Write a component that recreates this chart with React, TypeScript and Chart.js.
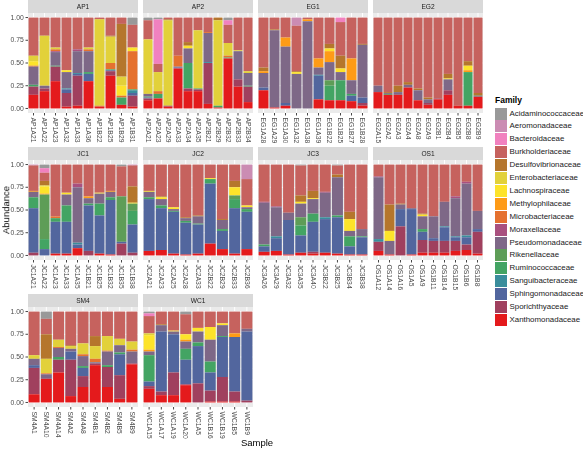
import React, { useEffect, useRef } from "react";
import { Chart, registerables } from "chart.js";
Chart.register(...registerables);

// Legend order (top of stack first)
const FAMILIES = [
  "Acidaminococcaceae", "Aeromonadaceae", "Bacteroidaceae", "Burkholderiaceae",
  "Desulfovibrionaceae", "Enterobacteriaceae", "Lachnospiraceae", "Methylophilaceae",
  "Microbacteriaceae", "Moraxellaceae", "Pseudomonadaceae", "Rikenellaceae",
  "Ruminococcaceae", "Sanguibacteraceae", "Sphingomonadaceae", "Sporichthyaceae",
  "Xanthomonadaceae",
];
const FAMILY_COLORS = [
  "#999999", "#CB8CB3", "#F181BF", "#C6625E",
  "#B5762C", "#E2D13A", "#FDE32A", "#FE9B16",
  "#E5712F", "#A9507F", "#7E6887", "#5E9D57",
  "#43A463", "#3A8D9C", "#52669E", "#A0405E",
  "#E41A1C",
];
// Value rows below are listed bottom-up in the stack:
// X, Sporich, Sphingo, Sanguib, Rumino, Rikenell, Pseudo, Moraxell, Microbact,
// Methylo, Lachno, Entero, Desulfo, Burkhold, Bacteroid, Aeromonad, Acidamino
const STACK_FAMILIES = [...FAMILIES].reverse();

const Y_TICKS = [0, 0.25, 0.5, 0.75, 1];
const Y_TICK_LABELS = ["0.00", "0.25", "0.50", "0.75", "1.00"];
const Y_MINOR = [0.125, 0.375, 0.625, 0.875];

const AP1_SAMPLES = ["AP1A21", "AP1A22", "AP1A23", "AP1A32", "AP1A33", "AP1A36", "AP1B22", "AP1B25", "AP1B29", "AP1B31"];
const AP1_VALUES = [
  [.15, .09, 0, 0, .02, 0, .20, 0, .01, 0, .05, .06, 0, .42, 0, 0, 0],
  [.19, .03, 0, 0, 0, 0, .03, 0, 0, 0, 0, .55, 0, .20, 0, 0, 0],
  [.30, .16, 0, 0, .01, 0, .15, .01, .02, 0, 0, .02, 0, .33, 0, 0, 0],
  [.02, .15, .04, .01, 0, 0, .18, 0, 0, 0, .02, 0, 0, .58, 0, 0, 0],
  [.03, .33, .02, .01, 0, 0, .24, .02, 0, 0, 0, 0, 0, .35, 0, 0, 0],
  [.30, 0, .08, 0, .02, 0, .23, 0, .02, 0, 0, .02, 0, .33, 0, 0, 0],
  [.02, 0, 0, 0, 0, 0, 0, 0, .01, 0, 0, .95, 0, .02, 0, 0, 0],
  [.36, .05, .01, 0, .01, 0, 0, 0, .07, 0, 0, .29, .01, .20, 0, 0, 0],
  [.04, 0, 0, 0, .08, 0, 0, 0, .02, 0, .11, .10, .58, .07, 0, 0, 0],
  [.02, .12, .03, .03, .01, 0, 0, 0, .42, 0, .04, 0, 0, .25, 0, 0, .08],
];

const AP2_SAMPLES = ["AP2A21", "AP2A23", "AP2A29", "AP2A33", "AP2A34", "AP2A35", "AP2B21", "AP2B29", "AP2B32", "AP2B33", "AP2B34"];
const AP2_VALUES = [
  [.09, .02, .01, 0, .01, 0, .03, 0, 0, 0, 0, .60, 0, .21, 0, 0, .03],
  [.11, 0, 0, 0, .05, 0, 0, 0, .03, 0, 0, .21, 0, .09, .49, 0, .02],
  [.02, .01, 0, 0, 0, 0, 0, 0, 0, 0, 0, .94, .01, .02, 0, 0, 0],
  [.44, 0, .01, 0, 0, 0, .01, 0, .12, 0, 0, 0, 0, .42, 0, 0, 0],
  [.19, .03, 0, 0, .28, 0, .16, 0, 0, 0, .03, 0, .04, .27, 0, 0, 0],
  [.19, .02, 0, 0, .01, 0, 0, 0, 0, 0, 0, .64, 0, .14, 0, 0, 0],
  [.05, .45, 0, .01, 0, 0, .32, 0, .01, 0, 0, 0, 0, .16, 0, 0, 0],
  [.01, 0, 0, 0, .02, 0, 0, 0, 0, 0, 0, .94, .03, 0, 0, 0, 0],
  [.55, 0, 0, 0, .01, 0, 0, 0, .02, 0, 0, .14, 0, .20, .05, 0, .03],
  [.24, .08, 0, 0, 0, 0, .31, 0, 0, 0, 0, .01, 0, .36, 0, 0, 0],
  [.07, .17, 0, 0, .01, 0, .14, 0, 0, 0, 0, .02, 0, .59, 0, 0, 0],
];

const EG1_SAMPLES = ["EG1A28", "EG1A29", "EG1A30", "EG1A32", "EG1A38", "EG1A39", "EG1B22", "EG1B25", "EG1B27", "EG1B28"];
const EG1_VALUES = [
  [.20, 0, .03, 0, 0, 0, .16, 0, 0, .02, 0, 0, .04, .55, 0, 0, 0],
  [.01, 0, 0, 0, 0, 0, .85, 0, 0, 0, 0, 0, .01, .13, 0, 0, 0],
  [.03, 0, .03, 0, 0, 0, .62, 0, 0, .10, 0, 0, 0, .22, 0, 0, 0],
  [0, 0, 0, 0, 0, 0, .38, 0, 0, 0, .02, 0, .01, .50, 0, .09, 0],
  [0, 0, 0, 0, 0, 0, .96, 0, 0, .02, 0, 0, 0, .02, 0, 0, 0],
  [.10, 0, .26, .01, 0, 0, .08, 0, 0, .10, 0, 0, 0, .45, 0, 0, 0],
  [.09, 0, 0, 0, .16, .06, .20, 0, 0, .12, .03, 0, .05, .29, 0, 0, 0],
  [.09, 0, 0, 0, .22, 0, .09, 0, 0, 0, .04, 0, .14, .37, .05, 0, 0],
  [.08, 0, .06, 0, .02, 0, .15, 0, 0, .24, 0, 0, 0, .45, 0, 0, 0],
  [.03, .03, .06, 0, 0, 0, .58, 0, 0, 0, 0, 0, .01, .29, 0, 0, 0],
];

const EG2_SAMPLES = ["EG2A15", "EG2A2", "EG2A3", "EG2A4", "EG2A8", "EG2A9", "EG2B1", "EG2B4", "EG2B5", "EG2B8", "EG2B9"];
const EG2_VALUES = [
  [.18, 0, 0, 0, 0, 0, .07, 0, 0, 0, 0, 0, 0, .75, 0, 0, 0],
  [.15, 0, 0, 0, .01, 0, .01, 0, 0, 0, 0, 0, .01, .82, 0, 0, 0],
  [.15, 0, 0, 0, 0, 0, .03, 0, 0, 0, 0, 0, .07, .75, 0, 0, 0],
  [.23, 0, 0, 0, 0, 0, .03, 0, 0, 0, 0, 0, .03, .71, 0, 0, 0],
  [.09, 0, 0, 0, 0, 0, .11, 0, 0, 0, 0, 0, .02, .78, 0, 0, 0],
  [.04, .02, 0, 0, 0, 0, .04, 0, 0, 0, 0, 0, .02, .88, 0, 0, 0],
  [.10, .01, 0, 0, 0, 0, 0, 0, 0, 0, 0, 0, 0, .89, 0, 0, 0],
  [.15, .05, 0, 0, 0, 0, .12, 0, 0, 0, .01, 0, .05, .62, 0, 0, 0],
  [.03, 0, 0, 0, 0, 0, 0, 0, 0, 0, 0, 0, 0, .97, 0, 0, 0],
  [.03, 0, 0, 0, .37, 0, 0, 0, 0, .02, .05, 0, .05, .48, 0, 0, 0],
  [.13, 0, 0, .01, 0, 0, 0, 0, 0, 0, 0, 0, .03, .83, 0, 0, 0],
];

const JC1_SAMPLES = ["JC1A21", "JC1A22", "JC1A23", "JC1A33", "JC1A35", "JC1B21", "JC1B25", "JC1B32", "JC1B35", "JC1B38"];
const JC1_VALUES = [
  [0, .03, .49, 0, .12, 0, .06, 0, 0, .01, 0, 0, 0, .28, 0, .01, 0],
  [0, 0, .07, 0, .11, .49, 0, 0, 0, .01, .08, .01, .05, .09, .05, 0, .04],
  [.02, 0, .35, 0, .04, 0, 0, 0, .02, 0, 0, 0, 0, .57, 0, 0, 0],
  [.02, 0, .35, 0, .18, 0, .12, 0, 0, 0, .02, 0, 0, .31, 0, 0, 0],
  [.08, 0, .04, .02, 0, 0, .61, .04, 0, 0, 0, 0, 0, .21, 0, 0, 0],
  [0, .05, .50, 0, .02, 0, .06, 0, 0, .02, 0, 0, 0, .35, 0, 0, 0],
  [.02, 0, .42, 0, .13, 0, .11, 0, 0, 0, .01, 0, 0, .31, 0, 0, 0],
  [.01, 0, .60, 0, .03, 0, .06, 0, 0, .01, 0, 0, 0, .29, 0, 0, 0],
  [0, .13, .02, 0, 0, .50, 0, 0, 0, 0, 0, 0, 0, .33, 0, 0, .02],
  [0, .03, .31, 0, .15, .08, 0, 0, 0, 0, .01, 0, .18, .23, 0, .01, 0],
];

const JC2_SAMPLES = ["JC2A21", "JC2A23", "JC2A25", "JC2A28", "JC2A33", "JC2B22", "JC2B29", "JC2B33", "JC2B36"];
const JC2_VALUES = [
  [.05, 0, .57, 0, .02, 0, .06, 0, 0, 0, .01, 0, 0, .29, 0, 0, 0],
  [.06, 0, .46, 0, .03, 0, .07, 0, 0, 0, .02, 0, .01, .35, 0, 0, 0],
  [.02, 0, .46, 0, .01, 0, .02, 0, 0, 0, .02, 0, 0, .47, 0, 0, 0],
  [.01, 0, .35, 0, .02, 0, .03, 0, 0, 0, 0, 0, .01, .58, 0, 0, 0],
  [.02, 0, .32, 0, .01, 0, .08, 0, 0, 0, 0, 0, .01, .56, 0, 0, 0],
  [.13, 0, .66, 0, .05, 0, 0, 0, 0, 0, .01, 0, 0, .15, 0, 0, 0],
  [.07, 0, .20, 0, .02, 0, .10, 0, 0, 0, 0, 0, .01, .60, 0, 0, 0],
  [.02, 0, .50, 0, .10, .04, 0, 0, 0, 0, .09, 0, .07, .18, 0, 0, 0],
  [.07, 0, .41, 0, .03, 0, .02, 0, 0, 0, .02, 0, 0, .29, 0, .16, 0],
];

const JC3_SAMPLES = ["JC3A26", "JC3A29", "JC3A32", "JC3A35", "JC3A40", "JC3B22", "JC3B25", "JC3B34", "JC3B38"];
const JC3_VALUES = [
  [.04, 0, .06, 0, .02, 0, .46, .01, 0, 0, 0, 0, 0, .41, 0, 0, 0],
  [.05, 0, .14, .02, 0, 0, .32, .01, 0, 0, 0, 0, 0, .46, 0, 0, 0],
  [.01, 0, .38, 0, 0, 0, .08, 0, 0, 0, 0, 0, 0, .53, 0, 0, 0],
  [.03, 0, .19, 0, .11, .09, .15, 0, 0, 0, .02, 0, .07, .33, 0, 0, .01],
  [.02, .02, .33, 0, .09, 0, .16, 0, 0, 0, .01, 0, .08, .29, 0, 0, 0],
  [.03, 0, .37, .02, 0, 0, .27, .01, 0, 0, 0, 0, 0, .30, 0, 0, 0],
  [.02, 0, .40, 0, .02, 0, .42, 0, 0, 0, 0, 0, .03, .10, 0, 0, .01],
  [.01, 0, .09, 0, .11, 0, .06, 0, 0, 0, .13, 0, .08, .52, 0, 0, 0],
  [.01, 0, .19, 0, .01, 0, .08, 0, 0, 0, 0, 0, 0, .71, 0, 0, 0],
];

const OS1_SAMPLES = ["OS1A12", "OS1A14", "OS1A16", "OS1A5", "OS1A9", "OS1B11", "OS1B14", "OS1B15", "OS1B6", "OS1B8"];
const OS1_VALUES = [
  [.05, .10, 0, .03, 0, 0, .68, .01, 0, 0, 0, 0, 0, .13, 0, 0, 0],
  [.01, 0, 0, 0, 0, 0, .15, 0, 0, 0, .11, 0, .29, .44, 0, 0, 0],
  [0, .32, .19, 0, 0, 0, .05, 0, 0, 0, 0, 0, .01, .43, 0, 0, 0],
  [.01, 0, .50, 0, 0, 0, .01, 0, 0, 0, 0, 0, 0, .48, 0, 0, 0],
  [.03, .14, .09, 0, .03, 0, .14, 0, 0, 0, .02, 0, .01, .54, 0, 0, 0],
  [.03, .13, .03, 0, 0, 0, .24, 0, 0, 0, 0, 0, 0, .57, 0, 0, 0],
  [.03, .13, .15, .01, 0, 0, .27, 0, 0, 0, 0, 0, 0, .41, 0, 0, 0],
  [.05, .11, .04, .01, 0, 0, .42, .02, 0, 0, 0, 0, 0, .35, 0, 0, 0],
  [.06, .06, .08, .02, 0, 0, .57, .02, 0, 0, 0, 0, 0, .19, 0, 0, 0],
  [.02, .24, .03, 0, 0, 0, .20, 0, 0, 0, 0, 0, 0, .51, 0, 0, 0],
];

const SM4_SAMPLES = ["SM4A1", "SM4A10", "SM4A14", "SM4A2", "SM4A8", "SM4B1", "SM4B2", "SM4B5", "SM4B9"];
const SM4_VALUES = [
  [.09, .29, .03, 0, 0, 0, .07, 0, 0, 0, 0, .04, 0, .48, 0, 0, 0],
  [.26, 0, 0, 0, 0, 0, .05, 0, .01, 0, 0, .16, .27, .17, 0, 0, .08],
  [.33, .14, 0, 0, .03, 0, .10, 0, .01, 0, 0, .08, 0, .31, 0, 0, 0],
  [.07, .40, .09, 0, 0, 0, .03, 0, 0, 0, 0, .03, .01, .37, 0, 0, 0],
  [.17, .12, .09, 0, .02, 0, .11, 0, .02, 0, 0, .12, 0, .35, 0, 0, 0],
  [.41, .02, .01, 0, 0, 0, 0, 0, .04, 0, 0, .14, .11, .27, 0, 0, 0],
  [.17, .22, 0, 0, .02, 0, .15, 0, .01, 0, 0, .16, 0, .27, 0, 0, 0],
  [.04, .26, .23, 0, .02, 0, .08, 0, 0, 0, 0, .07, 0, .30, 0, 0, 0],
  [.42, .01, 0, 0, 0, 0, .13, 0, .02, 0, 0, .09, 0, .33, 0, 0, 0],
];

const WC1_SAMPLES = ["WC1A15", "WC1A17", "WC1A19", "WC1A20", "WC1A5", "WC1B16", "WC1B19", "WC1B5", "WC1B9"];
const WC1_VALUES = [
  [.15, .03, .05, 0, .29, 0, .04, 0, 0, .02, .16, .02, 0, .19, .03, 0, .02],
  [.08, .04, .66, 0, 0, 0, .07, 0, 0, 0, 0, 0, .01, .14, 0, 0, 0],
  [.08, .25, .42, 0, 0, 0, .03, 0, 0, 0, .01, 0, 0, .21, 0, 0, 0],
  [.19, .01, .27, 0, .12, 0, .08, 0, 0, .02, .06, 0, 0, .22, 0, 0, .03],
  [0, .21, .41, 0, .04, 0, .12, 0, 0, 0, .04, 0, 0, .18, 0, 0, 0],
  [.01, .12, .20, 0, .12, 0, .24, 0, 0, 0, .14, 0, 0, .17, 0, 0, 0],
  [.01, .27, .44, 0, .01, 0, .12, 0, 0, 0, .02, 0, 0, .13, 0, 0, 0],
  [.01, .11, .60, 0, 0, 0, 0, 0, 0, .04, 0, 0, 0, .24, 0, 0, 0],
  [0, .02, .76, 0, 0, 0, .03, 0, 0, 0, 0, 0, 0, .19, 0, 0, 0],
];

const FACETS = [
  { title: "AP1", samples: AP1_SAMPLES, values: AP1_VALUES },
  { title: "AP2", samples: AP2_SAMPLES, values: AP2_VALUES },
  { title: "EG1", samples: EG1_SAMPLES, values: EG1_VALUES },
  { title: "EG2", samples: EG2_SAMPLES, values: EG2_VALUES },
  { title: "JC1", samples: JC1_SAMPLES, values: JC1_VALUES },
  { title: "JC2", samples: JC2_SAMPLES, values: JC2_VALUES },
  { title: "JC3", samples: JC3_SAMPLES, values: JC3_VALUES },
  { title: "OS1", samples: OS1_SAMPLES, values: OS1_VALUES },
  { title: "SM4", samples: SM4_SAMPLES, values: SM4_VALUES },
  { title: "WC1", samples: WC1_SAMPLES, values: WC1_VALUES },
];

// Layout (pixels)
const PANEL_W = 110;
const PANEL_H = 100;
const COL_STEP = 115;
const ROW_STEP = 147;
const LEFT0 = 28;
const STRIP_H = 13;
const BOTTOM_PAD = 34;
const FONT = '"Liberation Sans", Arial, sans-serif';

const facetPlugin = {
  id: "facetDecor",
  beforeDatasetsDraw(chart: any) {
    const { ctx, chartArea: a } = chart;
    const xs = chart.scales.x;
    const ys = chart.scales.y;
    ctx.save();
    ctx.fillStyle = "#EBEBEB";
    ctx.fillRect(a.left, a.top, a.right - a.left, a.bottom - a.top);
    ctx.strokeStyle = "#FFFFFF";
    ctx.lineWidth = 0.5;
    for (const v of Y_MINOR) {
      const p = ys.getPixelForValue(v);
      ctx.beginPath(); ctx.moveTo(a.left, p); ctx.lineTo(a.right, p); ctx.stroke();
    }
    ctx.lineWidth = 1;
    for (const v of Y_TICKS) {
      const p = ys.getPixelForValue(v);
      ctx.beginPath(); ctx.moveTo(a.left, p); ctx.lineTo(a.right, p); ctx.stroke();
    }
    (chart.data.labels as string[]).forEach((_l: string, i: number) => {
      const p = xs.getPixelForValue(i);
      ctx.beginPath(); ctx.moveTo(p, a.top); ctx.lineTo(p, a.bottom); ctx.stroke();
    });
    ctx.restore();
  },
  afterDraw(chart: any, _args: any, opts: any) {
    const { ctx, chartArea: a } = chart;
    const xs = chart.scales.x;
    const ys = chart.scales.y;
    ctx.save();
    // strip
    ctx.fillStyle = "#D9D9D9";
    ctx.fillRect(a.left, a.top - STRIP_H, a.right - a.left, STRIP_H);
    ctx.fillStyle = "#1A1A1A";
    ctx.font = `6.6px ${FONT}`;
    ctx.textAlign = "center";
    ctx.textBaseline = "middle";
    ctx.fillText(opts.title, (a.left + a.right) / 2, a.top - STRIP_H / 2 + 0.5);
    // x ticks and labels
    ctx.strokeStyle = "#333333";
    ctx.lineWidth = 0.9;
    (chart.data.labels as string[]).forEach((lab: string, i: number) => {
      const p = xs.getPixelForValue(i);
      ctx.beginPath(); ctx.moveTo(p, a.bottom); ctx.lineTo(p, a.bottom + 2.5); ctx.stroke();
      ctx.save();
      ctx.translate(p - 0.5, a.bottom + 4.5);
      ctx.rotate(Math.PI / 2);
      ctx.font = `6.8px ${FONT}`;
      ctx.fillStyle = "#4D4D4D";
      ctx.textAlign = "left";
      ctx.textBaseline = "middle";
      ctx.fillText(lab, 0, 0);
      ctx.restore();
    });
    if (opts.showY) {
      ctx.font = `6.8px ${FONT}`;
      ctx.fillStyle = "#4D4D4D";
      ctx.textAlign = "right";
      ctx.textBaseline = "middle";
      Y_TICKS.forEach((v, i) => {
        const p = ys.getPixelForValue(v);
        ctx.beginPath(); ctx.moveTo(a.left - 2.5, p); ctx.lineTo(a.left, p); ctx.stroke();
        ctx.fillText(Y_TICK_LABELS[i], a.left - 4.2, p + 0.3);
      });
    }
    ctx.restore();
  },
};

function Facet({ title, samples, values, col, row }: any) {
  const ref = useRef<HTMLCanvasElement | null>(null);
  const showY = col === 0;
  const left = showY ? 0 : LEFT0 + col * COL_STEP;
  const width = showY ? LEFT0 + PANEL_W : PANEL_W;
  const height = STRIP_H + PANEL_H + BOTTOM_PAD;
  useEffect(() => {
    if (!ref.current) return;
    const colorOf = (f: string) => FAMILY_COLORS[FAMILIES.indexOf(f)];
    const chart = new Chart(ref.current, {
      type: "bar",
      data: {
        labels: samples,
        datasets: STACK_FAMILIES.map((fam, k) => ({
          label: fam,
          data: values.map((r: number[]) => r[k]),
          backgroundColor: colorOf(fam),
          borderWidth: 0,
          barPercentage: 0.9,
          categoryPercentage: 1,
          stack: "s",
        })),
      },
      options: {
        responsive: false,
        animation: false,
        devicePixelRatio: 1,
        layout: { padding: { left: showY ? LEFT0 : 0, right: 0, top: STRIP_H, bottom: BOTTOM_PAD } },
        scales: {
          x: { display: false, stacked: true, offset: true },
          y: { display: false, stacked: true, min: -0.05, max: 1.05 },
        },
        plugins: {
          legend: { display: false },
          tooltip: { enabled: false },
          facetDecor: { title, showY },
        } as any,
      },
      plugins: [facetPlugin as any],
    });
    return () => chart.destroy();
  }, []);
  return (
    <canvas
      ref={ref}
      width={width}
      height={height}
      style={{ position: "absolute", left, top: row * ROW_STEP, width, height }}
    />
  );
}

export default function App() {
  const LEG_X = 495;
  const LEG_Y0 = 113.5;
  const LEG_STEP = 12.9;
  return (
    <div
      style={{
        position: "fixed", left: 0, top: 0, width: 583, height: 450,
        background: "#FFFFFF", overflow: "hidden", fontFamily: FONT,
      }}
    >
      {FACETS.map((f, i) => (
        <Facet key={f.title} {...f} col={i % 4} row={Math.floor(i / 4)} />
      ))}
      <div
        style={{
          position: "absolute", left: 5.5, top: 210, fontSize: 9.5, color: "#000",
          transform: "translate(-50%, -50%) rotate(-90deg)", whiteSpace: "nowrap",
          lineHeight: 1,
        }}
      >
        Abundance
      </div>
      <div
        style={{
          position: "absolute", left: 257, top: 443, fontSize: 9.5, color: "#000",
          transform: "translate(-50%, -50%)", whiteSpace: "nowrap", lineHeight: 1,
        }}
      >
        Sample
      </div>
      <div
        style={{
          position: "absolute", left: LEG_X, top: 99.5, fontSize: 8.5, fontWeight: "bold",
          color: "#000", transform: "translateY(-50%)", whiteSpace: "nowrap", lineHeight: 1,
        }}
      >
        Family
      </div>
      {FAMILIES.map((fam, i) => (
        <React.Fragment key={fam}>
          <div
            style={{
              position: "absolute", left: LEG_X, top: LEG_Y0 + i * LEG_STEP - 6,
              width: 12, height: 12, background: FAMILY_COLORS[i],
            }}
          />
          <div
            style={{
              position: "absolute", left: 509.5, top: LEG_Y0 + i * LEG_STEP,
              transform: "translateY(-50%)", fontSize: 7.9, color: "#1A1A1A",
              whiteSpace: "nowrap", lineHeight: 1,
            }}
          >
            {fam}
          </div>
        </React.Fragment>
      ))}
    </div>
  );
}
